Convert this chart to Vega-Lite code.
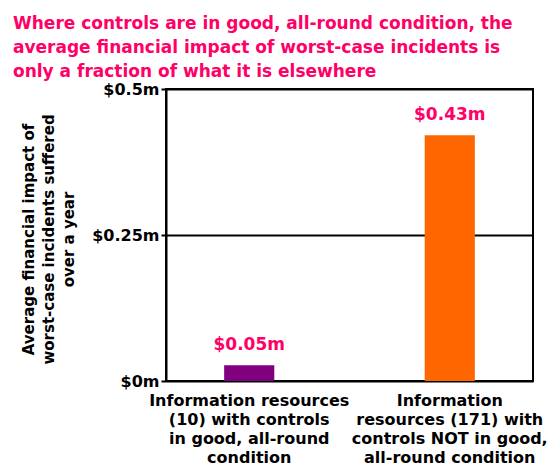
{
  "$schema": "https://vega.github.io/schema/vega-lite/v6.json",
  "width": 367,
  "height": 292,
  "autosize": {"type": "none"},
  "padding": {"left": 166, "top": 89, "right": 27, "bottom": 86},
  "background": "white",
  "config": {
    "font": "DejaVu Sans",
    "view": {"stroke": "black", "strokeWidth": 2}
  },
  "title": {
    "text": [
      "Where controls are in good, all-round condition, the",
      "average financial impact of worst-case incidents is",
      "only a fraction of what it is elsewhere"
    ],
    "anchor": "start",
    "frame": "group",
    "dx": -153,
    "offset": 0,
    "fontSize": 17,
    "fontWeight": "bold",
    "color": "#FF0066",
    "lineHeight": 24
  },
  "data": {
    "values": [
      {"group": "Information resources\n(10) with controls\nin good, all-round\ncondition", "value": 0.027, "label": "$0.05m"},
      {"group": "Information\nresources (171) with\ncontrols NOT in good,\nall-round condition", "value": 0.421, "label": "$0.43m"}
    ]
  },
  "encoding": {
    "x": {
      "field": "group",
      "type": "nominal",
      "sort": null,
      "scale": {"paddingInner": 0.75, "paddingOuter": 0.29},
      "axis": {
        "title": null,
        "labelAngle": 0,
        "ticks": false,
        "domain": false,
        "labelPadding": 11,
        "labelFontSize": 16,
        "labelFontWeight": "bold",
        "labelColor": "black",
        "labelLineHeight": 19,
        "labelLimit": 0,
        "labelOverlap": false,
        "labelExpr": "split(datum.label, '\\n')"
      }
    },
    "y": {
      "field": "value",
      "type": "quantitative",
      "scale": {"domain": [0, 0.5], "nice": false},
      "axis": {
        "values": [0, 0.25, 0.5],
        "labelExpr": "datum.value == 0 ? '$0m' : '$' + datum.value + 'm'",
        "labelFontSize": 16,
        "labelFontWeight": "bold",
        "labelColor": "black",
        "labelPadding": 2,
        "tickSize": 5,
        "tickColor": "black",
        "tickWidth": 2,
        "domainColor": "black",
        "domainWidth": 2,
        "grid": true,
        "gridColor": "black",
        "gridWidth": 2,
        "gridOpacity": 1,
        "title": ["Average financial impact of", "worst-case incidents suffered", "over a year"],
        "titleFontSize": 15,
        "titleFontWeight": "bold",
        "titleColor": "black",
        "titleLineHeight": 20,
        "titleX": -130,
        "titleY": 150,
        "titleAlign": "center",
        "titleBaseline": "bottom",
        "titleAngle": -90
      }
    }
  },
  "layer": [
    {
      "mark": {"type": "bar"},
      "encoding": {
        "color": {
          "field": "group",
          "type": "nominal",
          "scale": {
            "domain": [
              "Information resources\n(10) with controls\nin good, all-round\ncondition",
              "Information\nresources (171) with\ncontrols NOT in good,\nall-round condition"
            ],
            "range": ["#800080", "#FF6600"]
          },
          "legend": null
        }
      }
    },
    {
      "mark": {"type": "text", "dy": -15, "baseline": "alphabetic", "fontSize": 17, "fontWeight": "bold", "color": "#FF0066"},
      "encoding": {"text": {"field": "label"}}
    }
  ]
}
